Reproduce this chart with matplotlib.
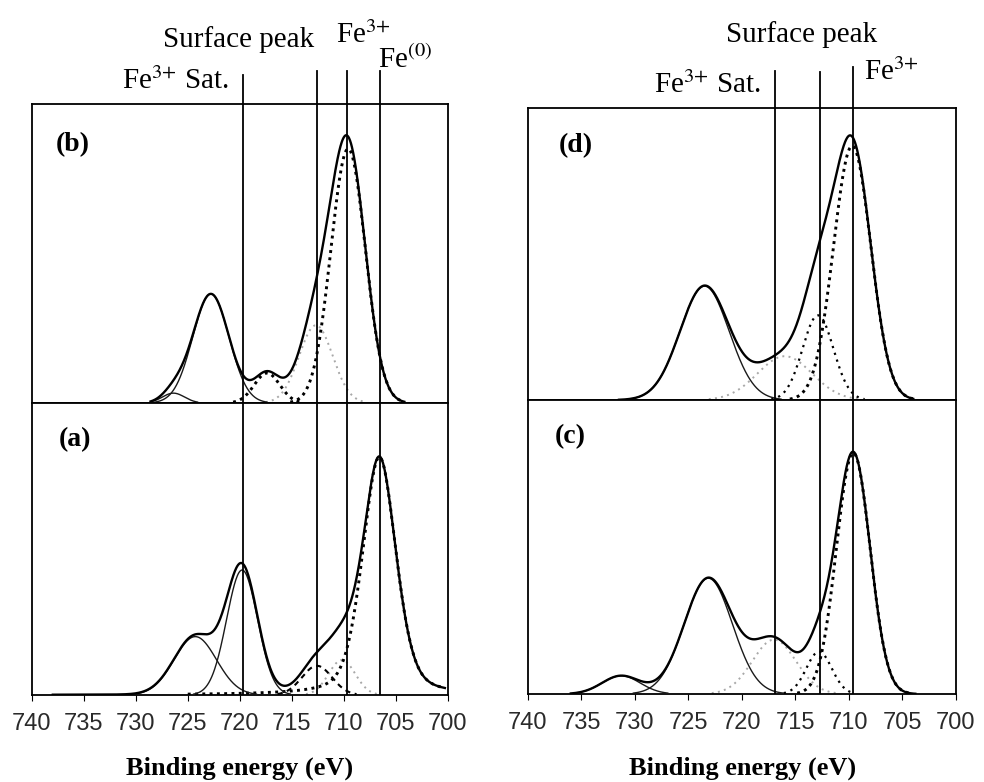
import numpy as np
import matplotlib
matplotlib.use('Agg')
import matplotlib.pyplot as plt

plt.rcParams['font.family'] = ['Liberation Serif', 'DejaVu Serif']
plt.rcParams['mathtext.fontset'] = 'stix'

# Fe 2p fitted components: centre (eV), height (% of panel), FWHM (eV), Lorentz fraction
# (a) as-prepared
a_peaks = ['Fe(0) 2p3/2', 'Fe3+', 'surface', 'Fe(0) 2p1/2', 'Fe3+ 2p1/2']
a_center = [706.6, 710.2, 712.6, 719.8, 724.3]
a_height = [81.5, 12.0, 10.0, 42.8, 20.0]
a_fwhm = [3.8, 3.0, 3.4, 3.5, 4.8]
a_eta = [0.35, 0.0, 0.0, 0.0, 0.0]
a_scan = (738.0, 700.3)

# (b)
b_peaks = ['Fe3+', 'surface', 'Fe2+ sat', 'Fe3+ 2p1/2', 'sat 2p1/2']
b_center = [709.6, 712.7, 717.4, 722.8, 726.4]
b_height = [85.0, 26.0, 10.0, 36.5, 3.3]
b_fwhm = [3.9, 3.8, 2.9, 4.1, 2.5]
b_eta = [0.0, 0.0, 0.0, 0.0, 0.0]
b_scan = (728.6, 704.2)

# (c)
c_peaks = ['Fe3+', 'surface', 'Fe3+ sat', 'Fe3+ 2p1/2', 'sat 2p1/2']
c_center = [709.6, 712.8, 717.0, 723.15, 731.3]
c_height = [82.0, 14.4, 18.5, 39.4, 6.2]
c_fwhm = [3.7, 2.8, 4.8, 5.3, 4.2]
c_eta = [0.0, 0.0, 0.0, 0.0, 0.0]
c_scan = (736.0, 703.8)

# (d)
d_peaks = ['Fe3+', 'surface', 'Fe3+ sat', 'Fe3+ 2p1/2']
d_center = [709.7, 712.9, 716.0, 723.5]
d_height = [87.0, 29.0, 15.0, 39.0]
d_fwhm = [4.1, 3.4, 6.0, 5.4]
d_eta = [0.0, 0.0, 0.0, 0.0]
d_scan = (731.5, 704.0)

# reference lines (eV)
left_lines = [719.7, 712.6, 709.7, 706.5]
right_lines = [716.9, 712.7, 709.6]

xticks = [740, 735, 730, 725, 720, 715, 710, 705, 700]


def peak(e, c, h, w, eta):
    g = np.exp(-4 * np.log(2) * (e - c) ** 2 / w ** 2)
    l = 1.0 / (1 + 4 * (e - c) ** 2 / w ** 2)
    return h * ((1 - eta) * g + eta * l)


STY = {'total': dict(color='k', lw=1.7, ls='-', zorder=4),
       'thin': dict(color='#1a1a1a', lw=1.0, ls='-', zorder=3),
       'dot': dict(color='k', lw=2.1, ls=(0, (1, 1.5)), zorder=2),
       'fine': dict(color='k', lw=1.6, ls=(0, (1, 2.2)), zorder=2),
       'dash': dict(color='k', lw=1.5, ls=(0, (2.5, 2.2)), zorder=2),
       'grey': dict(color='#a8a8a8', lw=1.4, ls=(0, (1, 2.2)), zorder=1)}


def draw_panel(ax, center, height, fwhm, eta, scan, styles):
    e = np.linspace(scan[0], scan[1], 800)
    total = np.zeros_like(e)
    for c, h, w, n, s in zip(center, height, fwhm, eta, styles):
        y = peak(e, c, h, w, n)
        total += y
        ax.plot(e, np.where(y > 0.3, y, np.nan), **STY[s])
    ax.plot(e, total, **STY['total'])
    ax.set_xlim(740, 700)
    ax.set_ylim(0, 100)
    ax.set_yticks([])
    for sp in ax.spines.values():
        sp.set_linewidth(1.3)


W, H = 984, 782
fig = plt.figure(figsize=(W / 100, H / 100), dpi=100)


def px_axes(x0, x1, y_top, y_bot):
    return fig.add_axes([x0 / W, 1 - y_bot / H, (x1 - x0) / W, (y_bot - y_top) / H])


ax_b = px_axes(32, 448, 104, 403)
ax_a = px_axes(32, 448, 403, 695)
ax_d = px_axes(528, 956, 108, 400)
ax_c = px_axes(528, 956, 400, 694)

draw_panel(ax_a, a_center, a_height, a_fwhm, a_eta, a_scan,
           ['dot', 'grey', 'dash', 'thin', 'thin'])
draw_panel(ax_b, b_center, b_height, b_fwhm, b_eta, b_scan,
           ['dot', 'grey', 'dot', 'thin', 'thin'])
draw_panel(ax_c, c_center, c_height, c_fwhm, c_eta, c_scan,
           ['dot', 'fine', 'grey', 'thin', 'thin'])
draw_panel(ax_d, d_center, d_height, d_fwhm, d_eta, d_scan,
           ['dot', 'fine', 'grey', 'thin'])

for ax in (ax_b, ax_d):
    ax.set_xticks([])

for ax in (ax_a, ax_c):
    ax.set_xticks(xticks)
    ax.set_xticklabels([str(t) for t in xticks], family='Liberation Sans',
                       fontsize=17, color='#2a2a2a')
    ax.tick_params(axis='x', direction='out', length=4, width=0.8, pad=9)

# vertical marker lines, running from the bottom panel up past the top frame
line_tops_left = [75, 71, 71, 71]
for x, top in zip(left_lines, line_tops_left):
    ax_a.axvline(x, color='k', lw=1.3, zorder=5)
    ax_b.axvline(x, ymin=0, ymax=(403 - top) / 299, color='k', lw=1.3,
                 clip_on=False, zorder=5)
line_tops_right = [71, 72, 67]
for x, top in zip(right_lines, line_tops_right):
    ax_c.axvline(x, color='k', lw=1.3, zorder=5)
    ax_d.axvline(x, ymin=0, ymax=(400 - top) / 292, color='k', lw=1.3,
                 clip_on=False, zorder=5)


def ftext(x, y, s, **kw):
    fig.text(x / W, 1 - y / H, s, **kw)


fe3 = 'Fe$^{3{+}}$'

# peak labels above the panels
ftext(239, 47, 'Surface peak', fontsize=21, ha='center', va='baseline')
ftext(336, 43, fe3, fontsize=21, ha='left', va='baseline')
ftext(378, 68, 'Fe$^{(0)}$', fontsize=21, ha='left', va='baseline')
ftext(229, 89, fe3 + ' Sat.', fontsize=21, ha='right', va='baseline')

ftext(802, 42, 'Surface peak', fontsize=21, ha='center', va='baseline')
ftext(864, 80, fe3, fontsize=21, ha='left', va='baseline')
ftext(761, 93, fe3 + ' Sat.', fontsize=21, ha='right', va='baseline')

# panel letters
ftext(56, 145, '(b)', fontsize=20, fontweight='bold', va='center')
ftext(59, 440, '(a)', fontsize=20, fontweight='bold', va='center')
ftext(559, 146, '(d)', fontsize=20, fontweight='bold', va='center')
ftext(555, 437, '(c)', fontsize=20, fontweight='bold', va='center')

ftext(240, 768, 'Binding energy (eV)', fontsize=19, fontweight='bold',
      ha='center', va='center')
ftext(743, 768, 'Binding energy (eV)', fontsize=19, fontweight='bold',
      ha='center', va='center')

fig.savefig('out.png', dpi=100)
